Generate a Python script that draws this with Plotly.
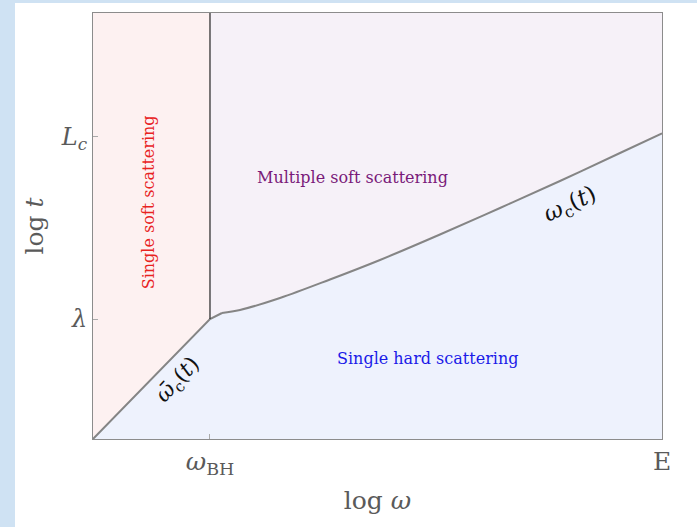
import plotly.graph_objects as go

# --- data (axis units: 0..1 in log omega, 0..1 in log t) ---
omega_bh = 0.2056
lam = 0.2817
L_c = 0.709
E = 1.0

# omega_bar_c(t) line: from origin to (omega_BH, lambda)
bar_x = [0.0, 0.2056]
bar_y = [0.0, 0.2817]

# short steep piece right after omega_BH
kink_x = [0.2056, 0.2267]
kink_y = [0.2817, 0.2958]
# omega_c(t) curve
curve_x = [0.2267, 0.2583, 0.3286, 0.4165, 0.5044, 0.6098, 0.7153, 0.8207, 0.9262, 1.0]
curve_y = [0.2958, 0.3028, 0.3310, 0.3744, 0.4202, 0.4800, 0.5423, 0.6056, 0.6714, 0.7176]

tick_x_vals = [omega_bh, E]
tick_x_text = ["<i>ω</i><sub>BH</sub>", "E"]
tick_y_vals = [lam, L_c]
tick_y_text = ["<i>λ</i>", "<i>L<sub>c</sub></i>"]

FONT = "DejaVu Serif"
GRAY = "#5a5a5a"

fig = go.Figure()

# single soft region (left, above diagonal)
fig.add_trace(go.Scatter(
    x=[0, bar_x[1], bar_x[1], 0, 0], y=[0, bar_y[1], 1, 1, 0],
    fill="toself", fillcolor="#fdf1f1", mode="none", hoverinfo="skip"))
# multiple soft region (upper right)
ux = kink_x + curve_x[1:]
uy = kink_y + curve_y[1:]
fig.add_trace(go.Scatter(
    x=ux + [1, ux[0], ux[0]], y=uy + [1, 1, uy[0]],
    fill="toself", fillcolor="#f6f1f8", mode="none", hoverinfo="skip"))
# single hard region (below)
hx = bar_x + kink_x[1:] + curve_x[1:] + [1, 0]
hy = bar_y + kink_y[1:] + curve_y[1:] + [0, 0]
fig.add_trace(go.Scatter(
    x=hx, y=hy, fill="toself", fillcolor="#eef2fd", mode="none", hoverinfo="skip"))

# boundary lines
LINE = dict(color="#858585", width=2)
fig.add_trace(go.Scatter(x=bar_x + kink_x[1:], y=bar_y + kink_y[1:], mode="lines",
                         line=LINE, hoverinfo="skip"))
fig.add_trace(go.Scatter(x=curve_x, y=curve_y, mode="lines",
                         line=dict(LINE, shape="spline", smoothing=1.0),
                         hoverinfo="skip"))
fig.add_trace(go.Scatter(x=[omega_bh, omega_bh], y=[lam, 1], mode="lines",
                         line=dict(color="#333333", width=1.3), hoverinfo="skip"))

# white page area over light-blue border
fig.add_shape(type="rect", xref="paper", yref="paper",
              x0=(15 - 93) / 569, x1=(697 - 93) / 569,
              y0=(439 - 530) / 426, y1=(439 - 3) / 426,
              fillcolor="white", line=dict(width=0), layer="below")

ann = [
    dict(x=0.097, y=0.556, text="Single soft scattering", textangle=-90,
         font=dict(color="#e8231f", size=16)),
    dict(x=0.456, y=0.615, text="Multiple soft scattering",
         font=dict(color="#7a1a7a", size=16)),
    dict(x=0.588, y=0.188, text="Single hard scattering",
         font=dict(color="#1a1ae8", size=16)),
    dict(x=0.840, y=0.549, text="<i>ω</i><sub>c</sub>(<i>t</i>)", textangle=-25,
         font=dict(color="#111111", size=23)),
    dict(x=0.150, y=0.138, text="<i>ω̄</i><sub>c</sub>(<i>t</i>)", textangle=-47,
         font=dict(color="#111111", size=22)),
]
for a in ann:
    a.update(xref="x", yref="y", showarrow=False)
    a["font"]["family"] = FONT

fig.update_layout(
    width=697, height=527,
    margin=dict(l=93, r=35, t=13, b=88),
    paper_bgcolor="#cfe2f3", plot_bgcolor="white",
    showlegend=False,
    annotations=ann,
    font=dict(family=FONT, color=GRAY),
)
fig.update_xaxes(range=[0, 1], showgrid=False, zeroline=False,
                 showline=True, mirror=True, linecolor="#8c8c8c", linewidth=1.2,
                 tickmode="array", tickvals=tick_x_vals, ticktext=tick_x_text,
                 ticks="inside", ticklen=5, tickcolor="#aaaaaa",
                 tickfont=dict(size=25, color=GRAY, family=FONT),
                 title=dict(text="log <i>ω</i>", font=dict(size=25, color=GRAY, family=FONT),
                            standoff=13))
fig.update_yaxes(range=[0, 1], showgrid=False, zeroline=False,
                 showline=True, mirror=True, linecolor="#8c8c8c", linewidth=1.2,
                 tickmode="array", tickvals=tick_y_vals, ticktext=tick_y_text,
                 ticks="inside", ticklen=5, tickcolor="#aaaaaa",
                 tickfont=dict(size=24, color=GRAY, family=FONT),
                 title=dict(text="log <i>t</i>", font=dict(size=25, color=GRAY, family=FONT),
                            standoff=10))

fig.write_html("out.html")
